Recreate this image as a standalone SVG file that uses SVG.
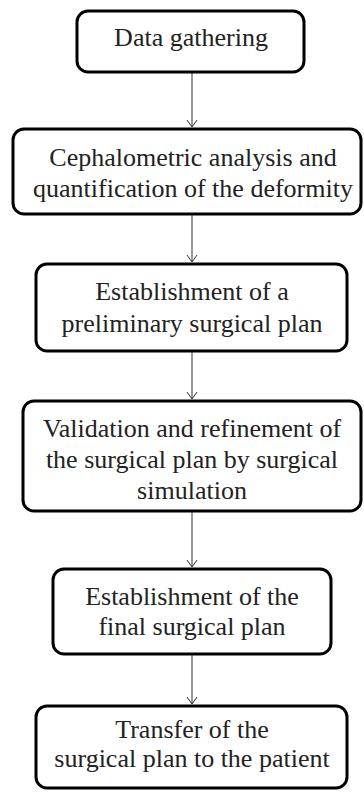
<svg xmlns="http://www.w3.org/2000/svg" width="364" height="792" viewBox="0 0 364 792">
  <style>
    .box { fill: #ffffff; stroke: #000000; stroke-width: 3; }
    .lbl { font-size: 26px; fill: #222222; text-anchor: middle; }
    .conn { stroke: #333333; stroke-width: 1; fill: none; }
  </style>
  <defs>
    <!-- open V arrowhead, drawn along +x so orient="auto" turns it with the line -->
    <marker id="arrow" markerWidth="12" markerHeight="12" refX="10" refY="6" orient="auto" markerUnits="userSpaceOnUse" viewBox="0 0 12 12">
      <path d="M3,1 L10,6 L3,11" fill="none" stroke="#333333" stroke-width="1"/>
    </marker>
  </defs>
  <rect width="364" height="792" fill="#ffffff"/>

  <g id="connectors">
    <line class="conn" x1="192" y1="73" x2="192" y2="127" marker-end="url(#arrow)"/>
    <line class="conn" x1="192" y1="215" x2="192" y2="262" marker-end="url(#arrow)"/>
    <line class="conn" x1="192" y1="352" x2="192" y2="399" marker-end="url(#arrow)"/>
    <line class="conn" x1="192" y1="512" x2="192" y2="567" marker-end="url(#arrow)"/>
    <line class="conn" x1="192" y1="655" x2="192" y2="704" marker-end="url(#arrow)"/>
  </g>

  <g font-family="Liberation Serif, Times New Roman, serif">
    <g id="data-gathering">
      <rect class="box" x="77" y="11" width="227" height="61" rx="11"/>
      <text class="lbl" x="191" y="46">Data gathering</text>
    </g>

    <g id="cephalometric-analysis">
      <rect class="box" x="13" y="129" width="348" height="85" rx="11"/>
      <text class="lbl" x="193" y="166">Cephalometric analysis and</text>
      <text class="lbl" x="193" y="197">quantification of the deformity</text>
    </g>

    <g id="preliminary-plan">
      <rect class="box" x="36" y="264" width="311" height="87" rx="11"/>
      <text class="lbl" x="192" y="300">Establishment of a</text>
      <text class="lbl" x="192" y="332">preliminary surgical plan</text>
    </g>

    <g id="validation">
      <rect class="box" x="23" y="401" width="338" height="110" rx="11"/>
      <text class="lbl" x="192" y="437">Validation and refinement of</text>
      <text class="lbl" x="192" y="468">the surgical plan by surgical</text>
      <text class="lbl" x="192" y="499">simulation</text>
    </g>

    <g id="final-plan">
      <rect class="box" x="53" y="569" width="278" height="85" rx="11"/>
      <text class="lbl" x="192" y="605">Establishment of the</text>
      <text class="lbl" x="192" y="635">final surgical plan</text>
    </g>

    <g id="transfer">
      <rect class="box" x="36" y="706" width="311" height="82" rx="11"/>
      <text class="lbl" x="192" y="738">Transfer of the</text>
      <text class="lbl" x="192" y="767">surgical plan to the patient</text>
    </g>
  </g>
</svg>
